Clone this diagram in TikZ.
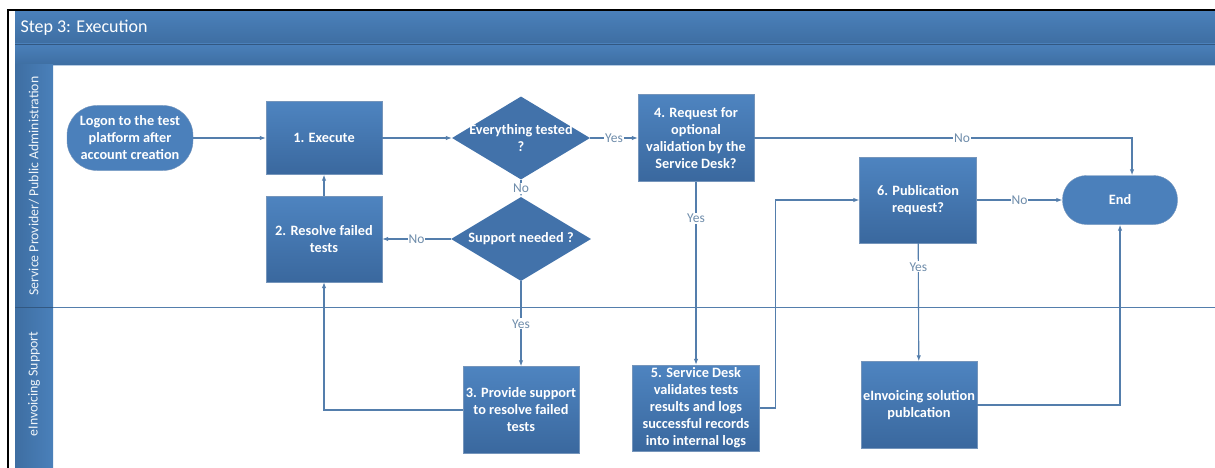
\documentclass[tikz,border=0pt]{standalone}
\usepackage{fontspec}
\setmainfont{Carlito}
\usetikzlibrary{shapes.geometric,arrows.meta,positioning}
\definecolor{barlight}{RGB}{74,128,186}
\definecolor{bardark}{RGB}{62,110,162}
\definecolor{boxtop}{RGB}{78,132,192}
\definecolor{boxbot}{RGB}{58,104,158}
\definecolor{diamfill}{RGB}{66,114,170}
\definecolor{flowline}{RGB}{84,126,172}
\definecolor{flowlabel}{RGB}{110,140,170}
\definecolor{endblue}{RGB}{116,158,204}

\begin{document}
\begin{tikzpicture}[x=1pt,y=-1pt,
    proc/.style={rectangle, top color=boxtop, bottom color=boxbot, draw=boxbot!70!white,
      text=white, font=\bfseries\fontsize{14.3}{17}\selectfont, align=center, inner sep=1pt},
    decision/.style={diamond, fill=diamfill, inner sep=0pt},
    dtext/.style={text=white, font=\bfseries\fontsize{14.3}{17}\selectfont, align=center},
    term/.style={rectangle, rounded corners=#1, fill=boxtop!85!boxbot, draw=boxbot!70!white,
      text=white, font=\bfseries\fontsize{14.3}{17}\selectfont, align=center, inner sep=1pt},
    flow/.style={draw=flowline, line width=1.1pt, -{Latex[length=6pt,width=4.5pt]}},
    elabel/.style={fill=white, inner sep=1pt, text=flowlabel, font=\fontsize{13.5}{16}\selectfont},
    lanetext/.style={text=white!92!barlight, font=\fontsize{13.8}{16}\selectfont, rotate=90}]
  \useasboundingbox (0,0) rectangle (1215,468);
  % frame, title bar and lanes
  \fill[white] (0,0) rectangle (1215,468);
  \fill[top color=barlight, bottom color=bardark] (15,11) rectangle (1215,44);
  \fill[top color=barlight, bottom color=bardark] (15,44) rectangle (1215,65);
  \draw[bardark!80!black, line width=0.8pt] (15,44) -- (1215,44);
  \draw[barlight!40!white, line width=0.8pt] (53,65) -- (1215,65);
  \fill[left color=bardark, right color=barlight] (15,65) rectangle (53,468);
  \draw[black, line width=2.2pt] (8,468) -- (8,10) -- (1215,10);
  \draw[bardark!80!black, line width=0.8pt] (15,307) -- (53,307);
  \draw[flowline, line width=0.8pt] (53,307) -- (1215,307);
  \node[anchor=base west, text=white, font=\fontsize{18}{20}\selectfont] (title) at (17,33) {Step 3: Execution};
  \node[lanetext] (laneA) at (34,186) {Service Provider/ Public Administration};
  \node[lanetext] (laneB) at (34,384) {eInvoicing Support};

  % upper lane
  \node[term=30pt, minimum width=126pt, minimum height=65pt] (logon) at (130,138)
    {Logon to the test\\platform after\\account creation};
  \node[proc, minimum width=116pt, minimum height=73pt] (exec) at (324,138) {1. Execute};
  \node[proc, minimum width=116pt, minimum height=86pt] (resolve) at (324,239) {2. Resolve failed\\tests};
  \node[decision, minimum width=138pt, minimum height=83pt,
    label={[dtext]center:Everything tested\\?}] (tested) at (521,138) {};
  \node[decision, minimum width=140pt, minimum height=84pt,
    label={[dtext]center:Support needed ?}] (support) at (521,239) {};
  \node[proc, minimum width=116pt, minimum height=87pt] (request) at (696,138)
    {4. Request for\\optional\\validation by the\\Service Desk?};
  \node[proc, minimum width=117pt, minimum height=86pt] (pubreq) at (918,200) {6. Publication\\request?};
  \node[term=24pt, minimum width=115pt, minimum height=49pt] (end) at (1120,200) {End};

  % lower lane
  \node[proc, minimum width=116pt, minimum height=87pt] (provide) at (521,410)
    {3. Provide support\\to resolve failed\\tests};
  \node[proc, minimum width=127pt, minimum height=86pt] (validate) at (696,408)
    {5. Service Desk\\validates tests\\results and logs\\successful records\\into internal logs};
  \node[proc, minimum width=116pt, minimum height=87pt] (publish) at (919,405)
    {eInvoicing solution\\publcation};

  % connectors
  \draw[flow] (logon) -- (exec);
  \draw[flow] (exec) -- (tested);
  \draw[flow] (tested) -- node[elabel] (lyes1) {Yes} (request);
  \draw[flow] (tested) -- node[elabel] (lno1) {No} (support);
  \draw[flow] (support) -- node[elabel] (lno2) {No} (resolve);
  \draw[flow] (resolve) -- (exec);
  \draw[flow] (support) -- node[elabel] (lyes2) {Yes} (provide);
  \draw[flow] (provide.west) -| (resolve.south);
  \draw[flow] (request) -- node[elabel, pos=0.2] (lyes3) {Yes} (validate);
  \draw[flow] (validate.east) -- ++(16,0) |- (pubreq.west);
  \draw[flow] (request.east) -| node[elabel, pos=0.275] (lno3) {No} ([xshift=12pt]end.north);
  \draw[flow] (pubreq) -- node[elabel] (lno4) {No} (end);
  \draw[flow] (pubreq) -- node[elabel, pos=0.2] (lyes4) {Yes} (publish);
  \draw[flow] (publish.east) -| (end.south);
\end{tikzpicture}
\end{document}
